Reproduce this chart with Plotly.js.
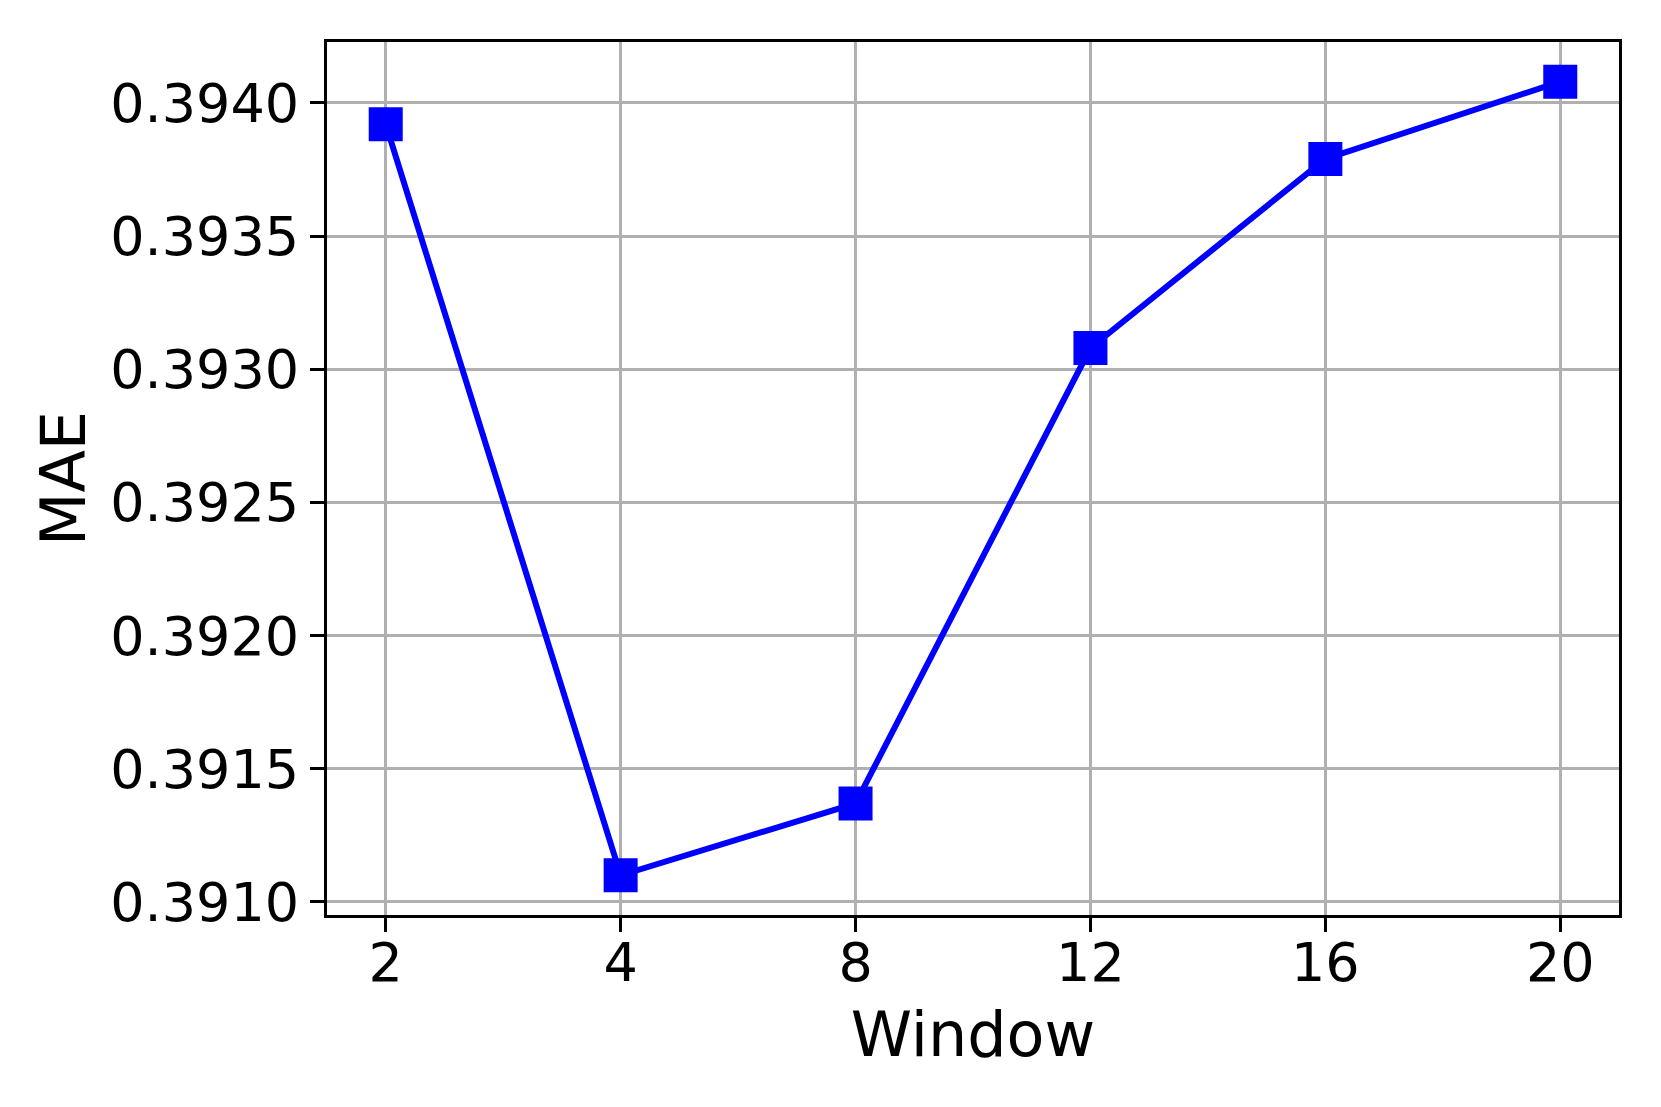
<!DOCTYPE html>
<html>
<head>
<meta charset="utf-8">
<script src="https://cdn.plot.ly/plotly-3.0.1.min.js"></script>
<style>html,body{margin:0;padding:0;background:#fff;}#chart{width:1661px;height:1107px;}</style>
</head>
<body>
<div id="chart"></div>
<script>
const windows = ["2", "4", "8", "12", "16", "20"];
const maeValues = [0.39392, 0.39110, 0.39137, 0.39308, 0.39379, 0.39408];
const yTickVals = [0.3910, 0.3915, 0.3920, 0.3925, 0.3930, 0.3935, 0.3940];
const yTickText = ["0.3910", "0.3915", "0.3920", "0.3925", "0.3930", "0.3935", "0.3940"];
const xTitle = "Window";
const yTitle = "MAE";

const trace = {
  x: windows,
  y: maeValues,
  type: 'scatter',
  mode: 'lines+markers',
  line: {color: '#0000ff', width: 6},
  marker: {symbol: 'square', size: 34, color: '#0000ff', line: {width: 0}},
  showlegend: false,
  hoverinfo: 'skip'
};

const font = {family: 'DejaVu Sans, sans-serif', color: '#000000'};

const layout = {
  width: 1661,
  height: 1107,
  margin: {l: 327, r: 42, t: 42, b: 192, pad: 0},
  paper_bgcolor: '#ffffff',
  plot_bgcolor: '#ffffff',
  font: font,
  xaxis: {
    type: 'category',
    range: [-0.25, 5.25],
    showline: true, mirror: true, linecolor: '#000000', linewidth: 3,
    ticks: 'outside', ticklen: 14, tickwidth: 3, tickcolor: '#000000',
    ticklabelstandoff: -16,
    showgrid: true, gridcolor: '#b0b0b0', gridwidth: 3,
    zeroline: false,
    tickfont: {family: 'DejaVu Sans, sans-serif', size: 54, color: '#000000'},
    title: {text: xTitle, font: {family: 'DejaVu Sans, sans-serif', size: 62, color: '#000000'}, standoff: 20},
    automargin: false
  },
  yaxis: {
    range: [0.390951, 0.394229],
    tickmode: 'array', tickvals: yTickVals, ticktext: yTickText,
    showline: true, mirror: true, linecolor: '#000000', linewidth: 3,
    ticks: 'outside', ticklen: 14, tickwidth: 3, tickcolor: '#000000',
    showgrid: true, gridcolor: '#b0b0b0', gridwidth: 3,
    zeroline: false,
    tickfont: {family: 'DejaVu Sans, sans-serif', size: 54, color: '#000000'},
    title: {text: yTitle, font: {family: 'DejaVu Sans, sans-serif', size: 62, color: '#000000'}, standoff: 5},
    automargin: false
  }
};

Plotly.newPlot('chart', [trace], layout, {displayModeBar: false, staticPlot: true});
</script>
</body>
</html>
